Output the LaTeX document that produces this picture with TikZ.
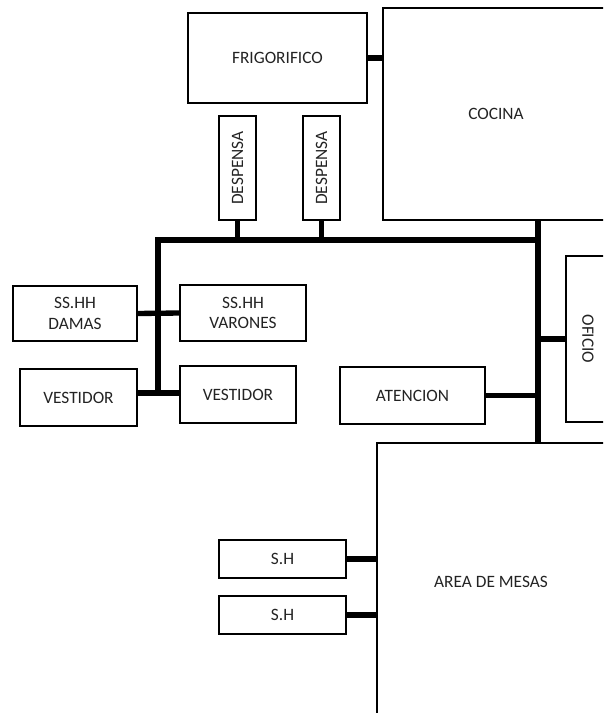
\documentclass[tikz,border=0pt]{standalone}
\usepackage{fontspec}
\setmainfont{Carlito}
\usepackage{graphicx}
\usetikzlibrary{positioning, calc}
\definecolor{colBorder}{RGB}{0,0,0}
\definecolor{colLink}{RGB}{0,0,0}
\definecolor{colText}{RGB}{35,35,35}
\tikzset{
  room/.style={
    rectangle, draw=colBorder, line width=1.4pt,
    text centered, font=\fontsize{13}{15.5}\selectfont, text=colText,
    inner sep=0pt, outer sep=0pt, align=center
  },
  despBox/.style={room, minimum width=27.75pt, minimum height=78pt},
  midBox/.style={room, minimum height=42.75pt},
  shBox/.style={room, minimum width=95.25pt, minimum height=28.5pt},
  link/.style={
    line width=4pt, color=colLink, line join=miter
  }
}
\begin{document}
\begin{tikzpicture}[x=0.75pt, y=-0.75pt]
  \useasboundingbox (0,0) rectangle (603,713);
  \clip (0,0) rectangle (603,713);

  \node[room, minimum width=134.25pt, minimum height=67.5pt] (frig) at (277.5,58) {FRIGORIFICO};
  \node[room, minimum width=169.5pt, minimum height=159pt] (cocina) at (496,114) {COCINA};
  \node[despBox] (desp1) at (237.5,168) {\rotatebox{90}{DESPENSA}};
  \node[despBox] (desp2) at (321.5,168) {\rotatebox{90}{DESPENSA}};

  \node[midBox, minimum width=93pt, minimum height=41.25pt] (damas) at (75,313.5) {SS.HH\\DAMAS};
  \node[midBox, minimum width=94.5pt, minimum height=42pt] (varones) at (243,313) {SS.HH\\VARONES};
  \node[midBox, minimum width=87.75pt] (vestL) at (78.5,397.5) {VESTIDOR};
  \node[midBox, minimum width=87pt] (vestR) at (238,394.5) {VESTIDOR};
  \node[midBox, minimum width=108.75pt] (atencion) at (412.5,395.5) {ATENCION};
  \node[room, minimum width=33pt, minimum height=124.5pt] (oficio) at (588,339) {\rotatebox{-90}{OFICIO}};

  \node[room, minimum width=171pt, minimum height=207.75pt] (mesas) at (491,581.5) {AREA DE MESAS};
  \node[shBox] (sh1) at (282.5,559) {S.H};
  \node[shBox, below=13.5pt of sh1] (sh2) {S.H};

  % corridor
  \coordinate (busL) at (158,240);
  \coordinate (busR) at (538,240);
  \coordinate (busB) at (158,393);
  \draw[link] (busB) -- (busL) -- (busR);
  \draw[link] (cocina.south -| busR) -- (mesas.north -| busR);

  % kitchen side
  \draw[link] (frig.east) -- (frig.east -| cocina.west);
  \draw[link] (desp1.south) -- (desp1.south |- busL);
  \draw[link] (desp2.south) -- (desp2.south |- busL);

  % toilets and dressing rooms
  \draw[link] (damas.east) -- (varones.west);
  \draw[link] (busB -| vestL.east) -- (busB -| vestR.west);

  % service
  \draw[link] (atencion.east) -- (atencion.east -| busR);
  \draw[link] (oficio.west -| busR) -- (oficio.west);

  % dining
  \draw[link] (sh1.east) -- (sh1.east -| mesas.west);
  \draw[link] (sh2.east) -- (sh2.east -| mesas.west);
\end{tikzpicture}
\end{document}
